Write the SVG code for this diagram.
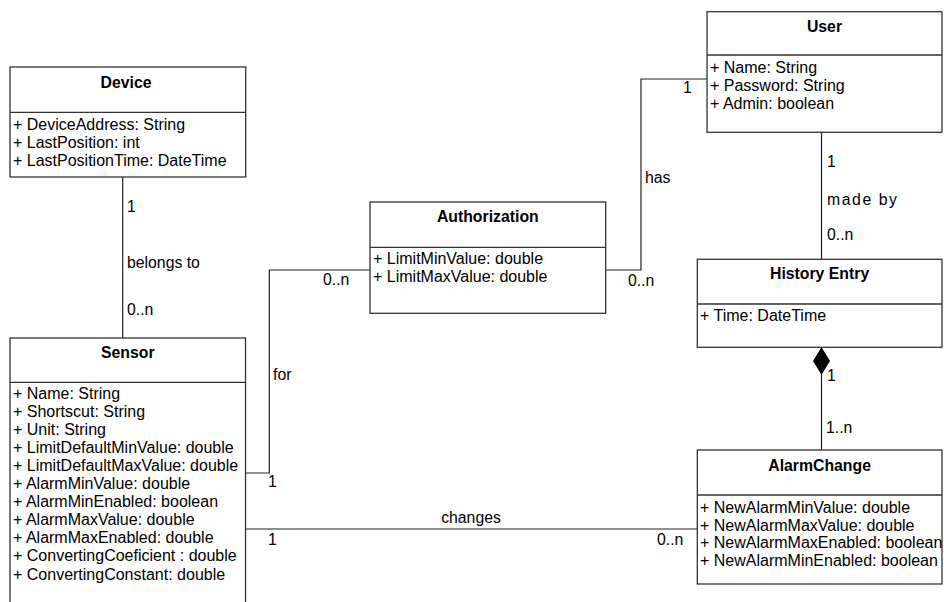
<svg xmlns="http://www.w3.org/2000/svg" width="944" height="602" viewBox="0 0 944 602">
  <defs>
    <style>
      .box { fill: #fff; stroke: #333; stroke-width: 1.3; }
      .div { stroke: #333; stroke-width: 1.3; }
      .title { font-family: "Liberation Sans", Arial, sans-serif; font-size: 15.8px; font-weight: bold; text-anchor: middle; fill: #000; }
      .attr { font-family: "Liberation Sans", Arial, sans-serif; font-size: 16px; fill: #000; }
      .lbl { font-family: "Liberation Sans", Arial, sans-serif; font-size: 15.8px; fill: #000; }
      .conn { fill: none; stroke: #222; stroke-width: 1.2; }
    </style>
  </defs>
  <rect width="944" height="602" fill="#fff"/>

  <!-- connectors -->
  <g id="connectors">
    <!-- Device - Sensor -->
    <line class="conn" x1="122.7" y1="177" x2="122.7" y2="338"/>
    <text class="lbl" x="127" y="212">1</text>
    <text class="lbl" x="127" y="268">belongs to</text>
    <text class="lbl" x="127" y="315">0..n</text>

    <!-- Sensor - Authorization -->
    <polyline class="conn" points="245.5,473 269.3,473 269.3,270 370,270"/>
    <text class="lbl" x="323" y="285">0..n</text>
    <text class="lbl" x="273" y="380">for</text>
    <text class="lbl" x="268" y="487">1</text>

    <!-- Authorization - User -->
    <polyline class="conn" points="605.7,270 641,270 641,79 707,79"/>
    <text class="lbl" x="683" y="93">1</text>
    <text class="lbl" x="645" y="183">has</text>
    <text class="lbl" x="628" y="286">0..n</text>

    <!-- User - History Entry -->
    <line class="conn" x1="821.5" y1="132" x2="821.5" y2="259"/>
    <text class="lbl" x="827" y="167">1</text>
    <text class="lbl" x="827" y="205" textLength="70" lengthAdjust="spacing">made by</text>
    <text class="lbl" x="827" y="240">0..n</text>

    <!-- History Entry composition AlarmChange -->
    <line class="conn" x1="821.5" y1="374" x2="821.5" y2="450"/>
    <polygon points="821.5,348 829.5,361 821.5,374 813.5,361" fill="#000" stroke="#000" stroke-width="1"/>
    <text class="lbl" x="827" y="381">1</text>
    <text class="lbl" x="826" y="433">1..n</text>

    <!-- Sensor - AlarmChange -->
    <line class="conn" x1="245.5" y1="529" x2="697.3" y2="529"/>
    <text class="lbl" x="471" y="523" text-anchor="middle">changes</text>
    <text class="lbl" x="268" y="545">1</text>
    <text class="lbl" x="657" y="545">0..n</text>
  </g>

  <!-- Device -->
  <g id="device">
    <rect class="box" x="10" y="67" width="235.7" height="110"/>
    <line class="div" x1="10" y1="112.3" x2="245.7" y2="112.3"/>
    <text class="title" x="126" y="88">Device</text>
    <text class="attr" x="13" y="130">+ DeviceAddress: String</text>
    <text class="attr" x="13" y="148">+ LastPosition: int</text>
    <text class="attr" x="13" y="166">+ LastPositionTime: DateTime</text>
  </g>

  <!-- Sensor -->
  <g id="sensor">
    <rect class="box" x="10" y="338" width="235.5" height="280"/>
    <line class="div" x1="10" y1="382.3" x2="245.5" y2="382.3"/>
    <text class="title" x="127.8" y="358">Sensor</text>
    <text class="attr" x="13" y="398.5">+ Name: String</text>
    <text class="attr" x="13" y="416.6">+ Shortscut: String</text>
    <text class="attr" x="13" y="434.7">+ Unit: String</text>
    <text class="attr" x="13" y="452.8">+ LimitDefaultMinValue: double</text>
    <text class="attr" x="13" y="470.9">+ LimitDefaultMaxValue: double</text>
    <text class="attr" x="13" y="489">+ AlarmMinValue: double</text>
    <text class="attr" x="13" y="507.1">+ AlarmMinEnabled: boolean</text>
    <text class="attr" x="13" y="525.2">+ AlarmMaxValue: double</text>
    <text class="attr" x="13" y="543.3">+ AlarmMaxEnabled: double</text>
    <text class="attr" x="13" y="561.4">+ ConvertingCoeficient : double</text>
    <text class="attr" x="13" y="579.5">+ ConvertingConstant: double</text>
  </g>

  <!-- Authorization -->
  <g id="authorization">
    <rect class="box" x="370" y="202" width="235.7" height="111.3"/>
    <line class="div" x1="370" y1="247.3" x2="605.7" y2="247.3"/>
    <text class="title" x="487.8" y="222">Authorization</text>
    <text class="attr" x="373" y="264">+ LimitMinValue: double</text>
    <text class="attr" x="373" y="282">+ LimitMaxValue: double</text>
  </g>

  <!-- User -->
  <g id="user">
    <rect class="box" x="707" y="11.7" width="235" height="120.6"/>
    <line class="div" x1="707" y1="55" x2="942" y2="55"/>
    <text class="title" x="824.5" y="32">User</text>
    <text class="attr" x="710" y="73">+ Name: String</text>
    <text class="attr" x="710" y="91">+ Password: String</text>
    <text class="attr" x="710" y="109">+ Admin: boolean</text>
  </g>

  <!-- History Entry -->
  <g id="history-entry">
    <rect class="box" x="697.3" y="259.3" width="244.7" height="88"/>
    <line class="div" x1="697.3" y1="304" x2="942" y2="304"/>
    <text class="title" x="819.6" y="279">History Entry</text>
    <text class="attr" x="700" y="320.5">+ Time: DateTime</text>
  </g>

  <!-- AlarmChange -->
  <g id="alarm-change">
    <rect class="box" x="697.3" y="450" width="244.7" height="134"/>
    <line class="div" x1="697.3" y1="495" x2="942" y2="495"/>
    <text class="title" x="819.6" y="471">AlarmChange</text>
    <text class="attr" x="700" y="513">+ NewAlarmMinValue: double</text>
    <text class="attr" x="700" y="530.7">+ NewAlarmMaxValue: double</text>
    <text class="attr" x="700" y="548.4">+ NewAlarmMaxEnabled: boolean</text>
    <text class="attr" x="700" y="566.1">+ NewAlarmMinEnabled: boolean</text>
  </g>
</svg>
